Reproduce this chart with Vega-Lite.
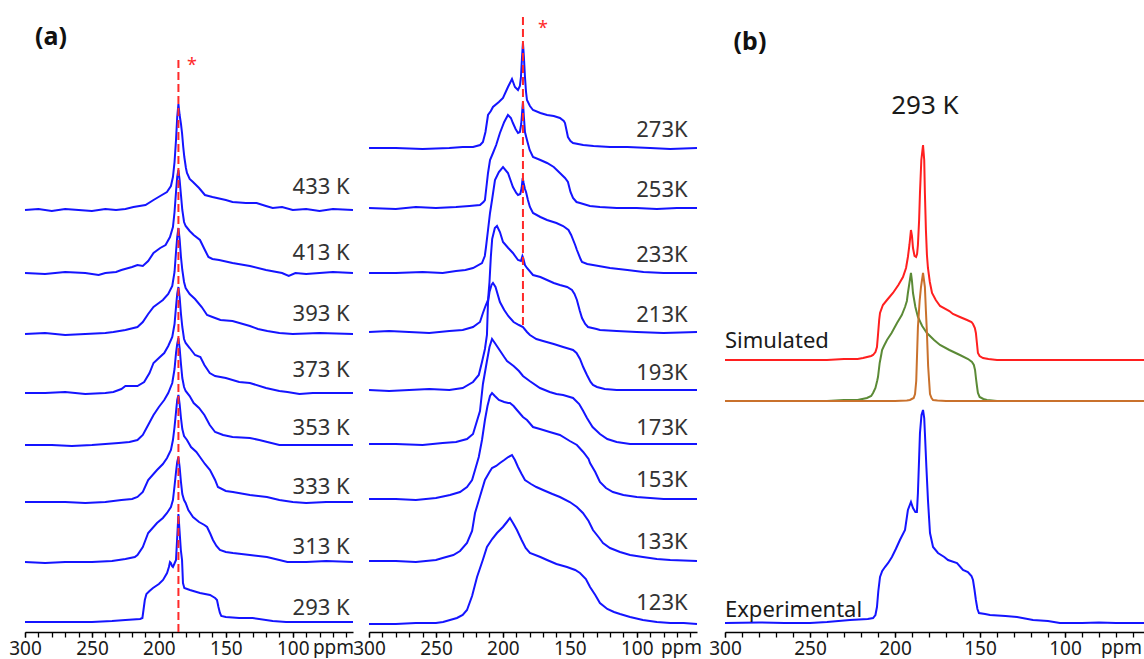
{
"$schema":"https://vega.github.io/schema/vega-lite/v6.json",
"padding":{"left":8,"top":0,"right":0,"bottom":0},
"background":"white",
"config":{"view":{"stroke":null},"font":"Noto Sans",
"axis":{"domainColor":"#000","tickColor":"#000","labelColor":"#1a1a1a","titleColor":"#1a1a1a","labelFontSize":19,"titleFontSize":19,"titleFontWeight":"normal","tickSize":5,"labelPadding":2,"grid":false,"labelFlush":false,"domainWidth":1.3,"tickWidth":1.3}},
"datasets":{
"p1":[
{"s":"433 K","x":300,"y":422},{"s":"433 K","x":290,"y":423},{"s":"433 K","x":280,"y":421},{"s":"433 K","x":270,"y":423},{"s":"433 K","x":260,"y":422},{"s":"433 K","x":250,"y":421},{"s":"433 K","x":240,"y":423},{"s":"433 K","x":232,"y":422},{"s":"433 K","x":225,"y":423},{"s":"433 K","x":219,"y":425},{"s":"433 K","x":210,"y":427},{"s":"433 K","x":204,"y":432},{"s":"433 K","x":199,"y":436},{"s":"433 K","x":194,"y":440},{"s":"433 K","x":191,"y":446},{"s":"433 K","x":189.5,"y":455},{"s":"433 K","x":188.3,"y":470},{"s":"433 K","x":187.2,"y":492},{"s":"433 K","x":186.3,"y":515},{"s":"433 K","x":185.4,"y":528},{"s":"433 K","x":184.5,"y":517},{"s":"433 K","x":183.5,"y":508},{"s":"433 K","x":182.7,"y":499},{"s":"433 K","x":181.8,"y":485},{"s":"433 K","x":181,"y":475},{"s":"433 K","x":179.8,"y":464},{"s":"433 K","x":179,"y":459},{"s":"433 K","x":177,"y":453},{"s":"433 K","x":174.5,"y":450},{"s":"433 K","x":170,"y":444},{"s":"433 K","x":165.6,"y":437},{"s":"433 K","x":160,"y":435},{"s":"433 K","x":150,"y":432},{"s":"433 K","x":145,"y":430},{"s":"433 K","x":135,"y":429},{"s":"433 K","x":127,"y":429},{"s":"433 K","x":120,"y":426},{"s":"433 K","x":115,"y":424},{"s":"433 K","x":108,"y":425},{"s":"433 K","x":100,"y":422},{"s":"433 K","x":90,"y":423},{"s":"433 K","x":80,"y":421},{"s":"433 K","x":70,"y":423},{"s":"433 K","x":55,"y":422},
{"s":"413 K","x":300,"y":359},{"s":"413 K","x":285,"y":358},{"s":"413 K","x":270,"y":360},{"s":"413 K","x":255,"y":359},{"s":"413 K","x":245,"y":357},{"s":"413 K","x":240,"y":359},{"s":"413 K","x":232,"y":360},{"s":"413 K","x":228,"y":362},{"s":"413 K","x":220,"y":365},{"s":"413 K","x":216,"y":367},{"s":"413 K","x":212,"y":366},{"s":"413 K","x":208,"y":371},{"s":"413 K","x":204,"y":379},{"s":"413 K","x":199,"y":384},{"s":"413 K","x":195,"y":387},{"s":"413 K","x":191.7,"y":395},{"s":"413 K","x":189.5,"y":405},{"s":"413 K","x":188.3,"y":420},{"s":"413 K","x":187.2,"y":440},{"s":"413 K","x":186.3,"y":455},{"s":"413 K","x":185.4,"y":462},{"s":"413 K","x":184.5,"y":452},{"s":"413 K","x":183.5,"y":437},{"s":"413 K","x":182.5,"y":422},{"s":"413 K","x":181.2,"y":410},{"s":"413 K","x":180,"y":406},{"s":"413 K","x":177,"y":401},{"s":"413 K","x":174,"y":397},{"s":"413 K","x":169.3,"y":392},{"s":"413 K","x":166,"y":383},{"s":"413 K","x":163,"y":375},{"s":"413 K","x":160,"y":373},{"s":"413 K","x":155,"y":372},{"s":"413 K","x":145,"y":369},{"s":"413 K","x":132,"y":366},{"s":"413 K","x":120,"y":362},{"s":"413 K","x":108,"y":359},{"s":"413 K","x":103,"y":356},{"s":"413 K","x":98,"y":359},{"s":"413 K","x":90,"y":358},{"s":"413 K","x":80,"y":359},{"s":"413 K","x":70,"y":360},{"s":"413 K","x":55,"y":359},
{"s":"393 K","x":300,"y":298},{"s":"393 K","x":285,"y":299},{"s":"393 K","x":270,"y":297},{"s":"393 K","x":255,"y":298},{"s":"393 K","x":240,"y":299},{"s":"393 K","x":234,"y":300},{"s":"393 K","x":225,"y":302},{"s":"393 K","x":216,"y":305},{"s":"393 K","x":212,"y":310},{"s":"393 K","x":208,"y":318},{"s":"393 K","x":204,"y":325},{"s":"393 K","x":200,"y":329},{"s":"393 K","x":197,"y":332},{"s":"393 K","x":193,"y":338},{"s":"393 K","x":190,"y":346},{"s":"393 K","x":188.3,"y":360},{"s":"393 K","x":187.2,"y":380},{"s":"393 K","x":186.3,"y":395},{"s":"393 K","x":185.4,"y":404},{"s":"393 K","x":184.5,"y":393},{"s":"393 K","x":183.5,"y":375},{"s":"393 K","x":182.5,"y":362},{"s":"393 K","x":181.2,"y":350},{"s":"393 K","x":180,"y":344},{"s":"393 K","x":177,"y":338},{"s":"393 K","x":173,"y":333},{"s":"393 K","x":168,"y":325},{"s":"393 K","x":164,"y":317},{"s":"393 K","x":160,"y":315},{"s":"393 K","x":154,"y":312},{"s":"393 K","x":145,"y":311},{"s":"393 K","x":132,"y":306},{"s":"393 K","x":126,"y":303},{"s":"393 K","x":119,"y":301},{"s":"393 K","x":110,"y":299},{"s":"393 K","x":100,"y":298},{"s":"393 K","x":80,"y":299},{"s":"393 K","x":55,"y":298},
{"s":"373 K","x":300,"y":239},{"s":"373 K","x":285,"y":239},{"s":"373 K","x":270,"y":240},{"s":"373 K","x":255,"y":238},{"s":"373 K","x":240,"y":239},{"s":"373 K","x":234,"y":240},{"s":"373 K","x":228,"y":243},{"s":"373 K","x":225,"y":246},{"s":"373 K","x":216,"y":246},{"s":"373 K","x":211,"y":250},{"s":"373 K","x":207,"y":259},{"s":"373 K","x":204,"y":269},{"s":"373 K","x":200,"y":274},{"s":"373 K","x":196,"y":279},{"s":"373 K","x":193,"y":286},{"s":"373 K","x":190,"y":295},{"s":"373 K","x":188.3,"y":308},{"s":"373 K","x":187.2,"y":325},{"s":"373 K","x":186.3,"y":338},{"s":"373 K","x":185.4,"y":345},{"s":"373 K","x":184.5,"y":335},{"s":"373 K","x":183.5,"y":318},{"s":"373 K","x":182.5,"y":305},{"s":"373 K","x":181.2,"y":293},{"s":"373 K","x":180,"y":289},{"s":"373 K","x":177,"y":284},{"s":"373 K","x":173,"y":277},{"s":"373 K","x":169,"y":275},{"s":"373 K","x":166,"y":267},{"s":"373 K","x":162,"y":259},{"s":"373 K","x":158,"y":256},{"s":"373 K","x":150,"y":254},{"s":"373 K","x":140,"y":250},{"s":"373 K","x":132,"y":249},{"s":"373 K","x":120,"y":244},{"s":"373 K","x":110,"y":241},{"s":"373 K","x":104,"y":240},{"s":"373 K","x":95,"y":238},{"s":"373 K","x":85,"y":239},{"s":"373 K","x":75,"y":239},{"s":"373 K","x":55,"y":239},
{"s":"353 K","x":300,"y":187},{"s":"353 K","x":280,"y":187},{"s":"353 K","x":265,"y":186},{"s":"353 K","x":250,"y":187},{"s":"353 K","x":240,"y":188},{"s":"353 K","x":230,"y":189},{"s":"353 K","x":222,"y":190},{"s":"353 K","x":216,"y":192},{"s":"353 K","x":212,"y":197},{"s":"353 K","x":208,"y":207},{"s":"353 K","x":204,"y":217},{"s":"353 K","x":200,"y":225},{"s":"353 K","x":196,"y":232},{"s":"353 K","x":193,"y":239},{"s":"353 K","x":190,"y":249},{"s":"353 K","x":188.3,"y":263},{"s":"353 K","x":187.2,"y":279},{"s":"353 K","x":186.3,"y":288},{"s":"353 K","x":185.4,"y":294},{"s":"353 K","x":184.5,"y":284},{"s":"353 K","x":183.5,"y":268},{"s":"353 K","x":182.5,"y":254},{"s":"353 K","x":181.2,"y":245},{"s":"353 K","x":180,"y":241},{"s":"353 K","x":177,"y":236},{"s":"353 K","x":174,"y":229},{"s":"353 K","x":170,"y":224},{"s":"353 K","x":166,"y":217},{"s":"353 K","x":162,"y":207},{"s":"353 K","x":158,"y":200},{"s":"353 K","x":152,"y":197},{"s":"353 K","x":145,"y":195},{"s":"353 K","x":132,"y":194},{"s":"353 K","x":125,"y":192},{"s":"353 K","x":119,"y":190},{"s":"353 K","x":110,"y":187},{"s":"353 K","x":55,"y":187},
{"s":"333 K","x":300,"y":130},{"s":"333 K","x":270,"y":130},{"s":"333 K","x":255,"y":129},{"s":"333 K","x":240,"y":130},{"s":"333 K","x":228,"y":132},{"s":"333 K","x":220,"y":133},{"s":"333 K","x":216,"y":135},{"s":"333 K","x":212,"y":140},{"s":"333 K","x":208,"y":152},{"s":"333 K","x":201.4,"y":162},{"s":"333 K","x":197,"y":168},{"s":"333 K","x":193.9,"y":174},{"s":"333 K","x":191,"y":182},{"s":"333 K","x":189.5,"y":192},{"s":"333 K","x":188.3,"y":205},{"s":"333 K","x":187.2,"y":220},{"s":"333 K","x":186.3,"y":232},{"s":"333 K","x":185.4,"y":237},{"s":"333 K","x":184.5,"y":228},{"s":"333 K","x":183.5,"y":214},{"s":"333 K","x":182.5,"y":203},{"s":"333 K","x":181.2,"y":196},{"s":"333 K","x":179,"y":192},{"s":"333 K","x":176,"y":185},{"s":"333 K","x":172,"y":180},{"s":"333 K","x":169.3,"y":175},{"s":"333 K","x":165.6,"y":168},{"s":"333 K","x":161.8,"y":162},{"s":"333 K","x":158,"y":152},{"s":"333 K","x":155.9,"y":145},{"s":"333 K","x":150,"y":141},{"s":"333 K","x":144.7,"y":140},{"s":"333 K","x":132,"y":137},{"s":"333 K","x":119.3,"y":135},{"s":"333 K","x":110,"y":132},{"s":"333 K","x":100,"y":130},{"s":"333 K","x":90,"y":129},{"s":"333 K","x":75,"y":130},{"s":"333 K","x":55,"y":130},
{"s":"313 K","x":300,"y":70},{"s":"313 K","x":285,"y":69},{"s":"313 K","x":270,"y":70},{"s":"313 K","x":250,"y":70},{"s":"313 K","x":235,"y":71},{"s":"313 K","x":225,"y":73},{"s":"313 K","x":218,"y":75},{"s":"313 K","x":216,"y":77},{"s":"313 K","x":212,"y":85},{"s":"313 K","x":208,"y":99},{"s":"313 K","x":201.4,"y":109},{"s":"313 K","x":197,"y":114},{"s":"313 K","x":193.9,"y":119},{"s":"313 K","x":191,"y":125},{"s":"313 K","x":189.5,"y":132},{"s":"313 K","x":188.3,"y":146},{"s":"313 K","x":187.2,"y":160},{"s":"313 K","x":186.3,"y":170},{"s":"313 K","x":185.4,"y":175},{"s":"313 K","x":184.5,"y":165},{"s":"313 K","x":183.5,"y":150},{"s":"313 K","x":182.5,"y":138},{"s":"313 K","x":181.2,"y":132},{"s":"313 K","x":180,"y":129},{"s":"313 K","x":178,"y":122},{"s":"313 K","x":174.5,"y":115},{"s":"313 K","x":170,"y":110},{"s":"313 K","x":166,"y":107},{"s":"313 K","x":164,"y":105},{"s":"313 K","x":161.5,"y":98},{"s":"313 K","x":159.6,"y":92},{"s":"313 K","x":157,"y":86},{"s":"313 K","x":154.4,"y":82},{"s":"313 K","x":150,"y":80},{"s":"313 K","x":144.7,"y":79},{"s":"313 K","x":132,"y":77},{"s":"313 K","x":119.3,"y":75},{"s":"313 K","x":110,"y":72},{"s":"313 K","x":104,"y":70},{"s":"313 K","x":90,"y":70},{"s":"313 K","x":75,"y":71},{"s":"313 K","x":55,"y":70},
{"s":"293 K","x":300,"y":10},{"s":"293 K","x":270,"y":10},{"s":"293 K","x":250,"y":10},{"s":"293 K","x":235,"y":11},{"s":"293 K","x":225,"y":12},{"s":"293 K","x":214,"y":13},{"s":"293 K","x":212.3,"y":14},{"s":"293 K","x":211.5,"y":22},{"s":"293 K","x":210.5,"y":32},{"s":"293 K","x":209.3,"y":38},{"s":"293 K","x":207,"y":41},{"s":"293 K","x":204.4,"y":44},{"s":"293 K","x":200,"y":48},{"s":"293 K","x":196.9,"y":52},{"s":"293 K","x":193.9,"y":59},{"s":"293 K","x":192.5,"y":65},{"s":"293 K","x":191.7,"y":70},{"s":"293 K","x":191,"y":69},{"s":"293 K","x":190.2,"y":66},{"s":"293 K","x":189.5,"y":65},{"s":"293 K","x":188.5,"y":68},{"s":"293 K","x":187.2,"y":72},{"s":"293 K","x":186.3,"y":95},{"s":"293 K","x":185.4,"y":118},{"s":"293 K","x":184.5,"y":100},{"s":"293 K","x":183.6,"y":82},{"s":"293 K","x":182.7,"y":72},{"s":"293 K","x":182,"y":49},{"s":"293 K","x":181,"y":44},{"s":"293 K","x":176.8,"y":42},{"s":"293 K","x":169.3,"y":39},{"s":"293 K","x":161.8,"y":37},{"s":"293 K","x":158,"y":34},{"s":"293 K","x":156.6,"y":32},{"s":"293 K","x":155.5,"y":25},{"s":"293 K","x":154.4,"y":19},{"s":"293 K","x":153.4,"y":16},{"s":"293 K","x":150,"y":15},{"s":"293 K","x":140,"y":14},{"s":"293 K","x":130,"y":14},{"s":"293 K","x":115,"y":11},{"s":"293 K","x":105,"y":10},{"s":"293 K","x":55,"y":10}
],
"p2":[
{"s":"273K","x":300,"y":484},{"s":"273K","x":280,"y":484},{"s":"273K","x":260,"y":483},{"s":"273K","x":240,"y":484},{"s":"273K","x":230,"y":485},{"s":"273K","x":222.3,"y":485},{"s":"273K","x":217,"y":487},{"s":"273K","x":214.9,"y":490},{"s":"273K","x":213,"y":500},{"s":"273K","x":211.1,"y":517},{"s":"273K","x":209,"y":521},{"s":"273K","x":207.4,"y":525},{"s":"273K","x":203,"y":530},{"s":"273K","x":199.9,"y":534},{"s":"273K","x":196.2,"y":545},{"s":"273K","x":193.2,"y":553},{"s":"273K","x":191,"y":545},{"s":"273K","x":188.7,"y":542},{"s":"273K","x":187.3,"y":546},{"s":"273K","x":186.5,"y":555},{"s":"273K","x":185.7,"y":575},{"s":"273K","x":185,"y":589},{"s":"273K","x":184.3,"y":575},{"s":"273K","x":183.5,"y":555},{"s":"273K","x":182.7,"y":540},{"s":"273K","x":182,"y":532},{"s":"273K","x":179.8,"y":526},{"s":"273K","x":177.5,"y":522},{"s":"273K","x":172,"y":519},{"s":"273K","x":167,"y":517},{"s":"273K","x":162,"y":516},{"s":"273K","x":157.4,"y":514},{"s":"273K","x":154.5,"y":511},{"s":"273K","x":153.6,"y":509},{"s":"273K","x":152.5,"y":502},{"s":"273K","x":151.4,"y":495},{"s":"273K","x":149.5,"y":491},{"s":"273K","x":147.6,"y":489},{"s":"273K","x":140,"y":487},{"s":"273K","x":132.3,"y":486},{"s":"273K","x":120,"y":485},{"s":"273K","x":107,"y":485},{"s":"273K","x":90,"y":484},{"s":"273K","x":75,"y":483},{"s":"273K","x":55,"y":484},
{"s":"253K","x":300,"y":424},{"s":"253K","x":280,"y":423},{"s":"253K","x":265,"y":425},{"s":"253K","x":250,"y":424},{"s":"253K","x":235,"y":425},{"s":"253K","x":225,"y":426},{"s":"253K","x":217.1,"y":427},{"s":"253K","x":214.5,"y":430},{"s":"253K","x":213.4,"y":432},{"s":"253K","x":212.3,"y":445},{"s":"253K","x":211.1,"y":459},{"s":"253K","x":209.6,"y":472},{"s":"253K","x":207.4,"y":479},{"s":"253K","x":205,"y":487},{"s":"253K","x":202.2,"y":499},{"s":"253K","x":199,"y":510},{"s":"253K","x":196.2,"y":517},{"s":"253K","x":194,"y":514},{"s":"253K","x":192.5,"y":509},{"s":"253K","x":190.5,"y":503},{"s":"253K","x":188.7,"y":499},{"s":"253K","x":187.3,"y":500},{"s":"253K","x":186.3,"y":508},{"s":"253K","x":185.6,"y":520},{"s":"253K","x":185,"y":530},{"s":"253K","x":184.3,"y":515},{"s":"253K","x":183.5,"y":500},{"s":"253K","x":182,"y":492},{"s":"253K","x":180,"y":482},{"s":"253K","x":177.5,"y":475},{"s":"253K","x":172,"y":472},{"s":"253K","x":167,"y":469},{"s":"253K","x":162,"y":465},{"s":"253K","x":157.4,"y":459},{"s":"253K","x":153.6,"y":454},{"s":"253K","x":151.4,"y":450},{"s":"253K","x":149.5,"y":440},{"s":"253K","x":147.6,"y":434},{"s":"253K","x":145,"y":430},{"s":"253K","x":142.4,"y":429},{"s":"253K","x":135,"y":426},{"s":"253K","x":127.5,"y":425},{"s":"253K","x":115,"y":424},{"s":"253K","x":100,"y":424},{"s":"253K","x":85,"y":423},{"s":"253K","x":70,"y":424},{"s":"253K","x":55,"y":424},
{"s":"233K","x":300,"y":359},{"s":"233K","x":280,"y":359},{"s":"233K","x":260,"y":360},{"s":"233K","x":245,"y":359},{"s":"233K","x":235,"y":361},{"s":"233K","x":228,"y":362},{"s":"233K","x":222.3,"y":364},{"s":"233K","x":215.6,"y":369},{"s":"233K","x":213.5,"y":376},{"s":"233K","x":212.6,"y":385},{"s":"233K","x":211.1,"y":402},{"s":"233K","x":209.6,"y":419},{"s":"233K","x":208.1,"y":432},{"s":"233K","x":205.9,"y":452},{"s":"233K","x":203,"y":460},{"s":"233K","x":199.9,"y":465},{"s":"233K","x":196.2,"y":459},{"s":"233K","x":192.5,"y":445},{"s":"233K","x":190,"y":439},{"s":"233K","x":188.7,"y":437},{"s":"233K","x":187,"y":438},{"s":"233K","x":186,"y":444},{"s":"233K","x":185.2,"y":454},{"s":"233K","x":184.5,"y":449},{"s":"233K","x":183.5,"y":443},{"s":"233K","x":182.7,"y":440},{"s":"233K","x":181.3,"y":432},{"s":"233K","x":179.8,"y":425},{"s":"233K","x":177.5,"y":419},{"s":"233K","x":172,"y":415},{"s":"233K","x":167,"y":412},{"s":"233K","x":160,"y":409},{"s":"233K","x":155,"y":406},{"s":"233K","x":151,"y":402},{"s":"233K","x":149,"y":397},{"s":"233K","x":146,"y":387},{"s":"233K","x":144.7,"y":382},{"s":"233K","x":142,"y":373},{"s":"233K","x":140.9,"y":370},{"s":"233K","x":137,"y":368},{"s":"233K","x":132.7,"y":367},{"s":"233K","x":120,"y":364},{"s":"233K","x":107,"y":362},{"s":"233K","x":95,"y":360},{"s":"233K","x":80,"y":359},{"s":"233K","x":55,"y":359},
{"s":"213K","x":300,"y":300},{"s":"213K","x":285,"y":301},{"s":"213K","x":270,"y":300},{"s":"213K","x":255,"y":299},{"s":"213K","x":240,"y":301},{"s":"213K","x":230,"y":302},{"s":"213K","x":222.3,"y":305},{"s":"213K","x":217.1,"y":310},{"s":"213K","x":214.9,"y":319},{"s":"213K","x":213,"y":326},{"s":"213K","x":211.1,"y":332},{"s":"213K","x":210,"y":350},{"s":"213K","x":209,"y":375},{"s":"213K","x":208,"y":393},{"s":"213K","x":206,"y":404},{"s":"213K","x":204.4,"y":406},{"s":"213K","x":202.2,"y":400},{"s":"213K","x":199.9,"y":390},{"s":"213K","x":196,"y":384},{"s":"213K","x":192.5,"y":379},{"s":"213K","x":188.7,"y":372},{"s":"213K","x":186.5,"y":371},{"s":"213K","x":185.4,"y":376},{"s":"213K","x":184.8,"y":374},{"s":"213K","x":183.5,"y":367},{"s":"213K","x":182,"y":364},{"s":"213K","x":177.5,"y":357},{"s":"213K","x":172,"y":355},{"s":"213K","x":167,"y":352},{"s":"213K","x":162,"y":349},{"s":"213K","x":157.4,"y":347},{"s":"213K","x":152,"y":345},{"s":"213K","x":148.4,"y":342},{"s":"213K","x":146.5,"y":338},{"s":"213K","x":144.7,"y":332},{"s":"213K","x":142.5,"y":321},{"s":"213K","x":140.9,"y":314},{"s":"213K","x":138.5,"y":308},{"s":"213K","x":136.4,"y":305},{"s":"213K","x":130,"y":303},{"s":"213K","x":127.5,"y":302},{"s":"213K","x":115,"y":301},{"s":"213K","x":100,"y":300},{"s":"213K","x":80,"y":299},{"s":"213K","x":55,"y":300},
{"s":"193K","x":300,"y":242},{"s":"193K","x":285,"y":241},{"s":"193K","x":270,"y":242},{"s":"193K","x":255,"y":243},{"s":"193K","x":240,"y":242},{"s":"193K","x":230,"y":244},{"s":"193K","x":222.3,"y":250},{"s":"193K","x":218,"y":257},{"s":"193K","x":215.6,"y":270},{"s":"193K","x":213.4,"y":283},{"s":"193K","x":211.9,"y":297},{"s":"193K","x":211.1,"y":330},{"s":"193K","x":210,"y":340},{"s":"193K","x":208.5,"y":347},{"s":"193K","x":207.4,"y":349},{"s":"193K","x":205.5,"y":345},{"s":"193K","x":202.2,"y":330},{"s":"193K","x":199,"y":322},{"s":"193K","x":196,"y":316},{"s":"193K","x":192,"y":310},{"s":"193K","x":188,"y":307},{"s":"193K","x":185,"y":305},{"s":"193K","x":182,"y":300},{"s":"193K","x":179.8,"y":297},{"s":"193K","x":175,"y":293},{"s":"193K","x":170,"y":291},{"s":"193K","x":162,"y":288},{"s":"193K","x":155,"y":285},{"s":"193K","x":150,"y":283},{"s":"193K","x":147.6,"y":282},{"s":"193K","x":145,"y":279},{"s":"193K","x":142.4,"y":273},{"s":"193K","x":140,"y":265},{"s":"193K","x":137.2,"y":257},{"s":"193K","x":134.5,"y":250},{"s":"193K","x":132.7,"y":247},{"s":"193K","x":129.7,"y":245},{"s":"193K","x":124,"y":243},{"s":"193K","x":115,"y":242},{"s":"193K","x":95,"y":242},{"s":"193K","x":55,"y":242},
{"s":"173K","x":300,"y":188},{"s":"173K","x":280,"y":188},{"s":"173K","x":260,"y":187},{"s":"173K","x":245,"y":189},{"s":"173K","x":235,"y":190},{"s":"173K","x":226.8,"y":193},{"s":"173K","x":222.3,"y":198},{"s":"173K","x":217.1,"y":221},{"s":"173K","x":214.9,"y":248},{"s":"173K","x":211.9,"y":271},{"s":"173K","x":210,"y":285},{"s":"173K","x":208.1,"y":293},{"s":"173K","x":206,"y":289},{"s":"173K","x":202,"y":281},{"s":"173K","x":199,"y":275},{"s":"173K","x":196.9,"y":271},{"s":"173K","x":192,"y":266},{"s":"173K","x":188,"y":261},{"s":"173K","x":185,"y":256},{"s":"173K","x":180,"y":251},{"s":"173K","x":172.3,"y":244},{"s":"173K","x":165,"y":240},{"s":"173K","x":160,"y":238},{"s":"173K","x":155,"y":237},{"s":"173K","x":147.6,"y":234},{"s":"173K","x":143,"y":228},{"s":"173K","x":140,"y":221},{"s":"173K","x":137.2,"y":214},{"s":"173K","x":133,"y":205},{"s":"173K","x":127.5,"y":198},{"s":"173K","x":122,"y":193},{"s":"173K","x":115,"y":190},{"s":"173K","x":105,"y":188},{"s":"173K","x":80,"y":188},{"s":"173K","x":55,"y":188},
{"s":"153K","x":300,"y":133},{"s":"153K","x":280,"y":133},{"s":"153K","x":265,"y":132},{"s":"153K","x":250,"y":134},{"s":"153K","x":239.5,"y":137},{"s":"153K","x":232,"y":140},{"s":"153K","x":226.8,"y":145},{"s":"153K","x":223,"y":152},{"s":"153K","x":220.8,"y":162},{"s":"153K","x":218,"y":175},{"s":"153K","x":215.6,"y":192},{"s":"153K","x":213.4,"y":212},{"s":"153K","x":211.5,"y":226},{"s":"153K","x":209.6,"y":236},{"s":"153K","x":208.1,"y":239},{"s":"153K","x":206,"y":236},{"s":"153K","x":203,"y":232},{"s":"153K","x":199,"y":230},{"s":"153K","x":196,"y":229},{"s":"153K","x":194.7,"y":229},{"s":"153K","x":192,"y":226},{"s":"153K","x":189.5,"y":222},{"s":"153K","x":185,"y":215},{"s":"153K","x":182,"y":212},{"s":"153K","x":177.5,"y":205},{"s":"153K","x":172.3,"y":203},{"s":"153K","x":165,"y":200},{"s":"153K","x":157.4,"y":197},{"s":"153K","x":150,"y":191},{"s":"153K","x":144.7,"y":187},{"s":"153K","x":140,"y":180},{"s":"153K","x":136,"y":173},{"s":"153K","x":134.9,"y":169},{"s":"153K","x":131,"y":160},{"s":"153K","x":127.5,"y":150},{"s":"153K","x":123,"y":144},{"s":"153K","x":117.8,"y":140},{"s":"153K","x":110,"y":137},{"s":"153K","x":100,"y":135},{"s":"153K","x":90,"y":134},{"s":"153K","x":80,"y":133},{"s":"153K","x":55,"y":133},
{"s":"133K","x":300,"y":71},{"s":"133K","x":280,"y":71},{"s":"133K","x":265,"y":70},{"s":"133K","x":250,"y":72},{"s":"133K","x":245,"y":74},{"s":"133K","x":237,"y":77},{"s":"133K","x":232,"y":81},{"s":"133K","x":226.8,"y":89},{"s":"133K","x":223,"y":101},{"s":"133K","x":220.8,"y":119},{"s":"133K","x":217,"y":136},{"s":"133K","x":213.4,"y":152},{"s":"133K","x":210,"y":160},{"s":"133K","x":208.1,"y":164},{"s":"133K","x":205,"y":166},{"s":"133K","x":202.2,"y":169},{"s":"133K","x":199,"y":172},{"s":"133K","x":196,"y":175},{"s":"133K","x":193.2,"y":177},{"s":"133K","x":191,"y":172},{"s":"133K","x":188.7,"y":165},{"s":"133K","x":186,"y":158},{"s":"133K","x":183.5,"y":152},{"s":"133K","x":179,"y":148},{"s":"133K","x":175,"y":145},{"s":"133K","x":170,"y":142},{"s":"133K","x":163,"y":138},{"s":"133K","x":157.4,"y":135},{"s":"133K","x":150,"y":130},{"s":"133K","x":144.7,"y":125},{"s":"133K","x":140.2,"y":119},{"s":"133K","x":136,"y":111},{"s":"133K","x":132.7,"y":102},{"s":"133K","x":128,"y":94},{"s":"133K","x":125.2,"y":89},{"s":"133K","x":120,"y":84},{"s":"133K","x":112.5,"y":80},{"s":"133K","x":105,"y":77},{"s":"133K","x":95.4,"y":75},{"s":"133K","x":85,"y":73},{"s":"133K","x":75,"y":72},{"s":"133K","x":55,"y":71},
{"s":"123K","x":300,"y":8},{"s":"123K","x":280,"y":8},{"s":"123K","x":265,"y":9},{"s":"123K","x":250,"y":9},{"s":"123K","x":244.7,"y":10},{"s":"123K","x":239.5,"y":12},{"s":"123K","x":234.3,"y":14},{"s":"123K","x":230,"y":17},{"s":"123K","x":226.8,"y":22},{"s":"123K","x":223,"y":36},{"s":"123K","x":219.3,"y":55},{"s":"123K","x":215,"y":72},{"s":"123K","x":211.9,"y":85},{"s":"123K","x":208,"y":93},{"s":"123K","x":204.4,"y":99},{"s":"123K","x":200,"y":105},{"s":"123K","x":197,"y":110},{"s":"123K","x":194.7,"y":114},{"s":"123K","x":192,"y":108},{"s":"123K","x":189.5,"y":102},{"s":"123K","x":186,"y":92},{"s":"123K","x":183,"y":84},{"s":"123K","x":179.8,"y":79},{"s":"123K","x":172,"y":75},{"s":"123K","x":167,"y":72},{"s":"123K","x":160,"y":68},{"s":"123K","x":152.1,"y":65},{"s":"123K","x":146,"y":62},{"s":"123K","x":142.4,"y":59},{"s":"123K","x":138,"y":53},{"s":"123K","x":134.9,"y":45},{"s":"123K","x":131,"y":37},{"s":"123K","x":127.5,"y":29},{"s":"123K","x":122,"y":23},{"s":"123K","x":117,"y":20},{"s":"123K","x":112.5,"y":18},{"s":"123K","x":105,"y":15},{"s":"123K","x":95.4,"y":12},{"s":"123K","x":85,"y":10},{"s":"123K","x":75,"y":9},{"s":"123K","x":65,"y":9},{"s":"123K","x":55,"y":8}
],
"p3":[
{"s":"sim","x":300,"y":272},{"s":"sim","x":260,"y":272},{"s":"sim","x":240,"y":272},{"s":"sim","x":230,"y":273},{"s":"sim","x":222,"y":273},{"s":"sim","x":218.8,"y":274},{"s":"sim","x":214,"y":276},{"s":"sim","x":212.9,"y":277},{"s":"sim","x":211.5,"y":280},{"s":"sim","x":210.6,"y":285},{"s":"sim","x":210,"y":297},{"s":"sim","x":209.3,"y":312},{"s":"sim","x":208.8,"y":319},{"s":"sim","x":207.1,"y":327},{"s":"sim","x":204.7,"y":332},{"s":"sim","x":201.2,"y":339},{"s":"sim","x":198,"y":347},{"s":"sim","x":195.3,"y":355},{"s":"sim","x":193.5,"y":364},{"s":"sim","x":192.4,"y":375},{"s":"sim","x":191.5,"y":387},{"s":"sim","x":190.6,"y":402},{"s":"sim","x":190,"y":396},{"s":"sim","x":189.4,"y":384},{"s":"sim","x":188.5,"y":376},{"s":"sim","x":187.6,"y":375},{"s":"sim","x":187,"y":378},{"s":"sim","x":186.5,"y":387},{"s":"sim","x":185.8,"y":412},{"s":"sim","x":185.3,"y":439},{"s":"sim","x":184.5,"y":472},{"s":"sim","x":183.5,"y":487},{"s":"sim","x":182.8,"y":472},{"s":"sim","x":182.4,"y":439},{"s":"sim","x":181.8,"y":402},{"s":"sim","x":181.2,"y":377},{"s":"sim","x":180.6,"y":364},{"s":"sim","x":179.5,"y":350},{"s":"sim","x":178.2,"y":339},{"s":"sim","x":176,"y":332},{"s":"sim","x":173.5,"y":326},{"s":"sim","x":168,"y":321},{"s":"sim","x":165.9,"y":318},{"s":"sim","x":161.8,"y":315},{"s":"sim","x":157.6,"y":312},{"s":"sim","x":155,"y":310},{"s":"sim","x":154.1,"y":308},{"s":"sim","x":153,"y":304},{"s":"sim","x":152.4,"y":299},{"s":"sim","x":151.8,"y":289},{"s":"sim","x":151.2,"y":279},{"s":"sim","x":150.2,"y":276},{"s":"sim","x":148.2,"y":274},{"s":"sim","x":145,"y":273},{"s":"sim","x":140,"y":272},{"s":"sim","x":53.5,"y":272},
{"s":"g","x":300,"y":231},{"s":"g","x":260,"y":231},{"s":"g","x":240,"y":231},{"s":"g","x":230,"y":232},{"s":"g","x":222,"y":232},{"s":"g","x":216.5,"y":234},{"s":"g","x":214,"y":236},{"s":"g","x":212.9,"y":239},{"s":"g","x":211.5,"y":244},{"s":"g","x":210.5,"y":251},{"s":"g","x":210,"y":255},{"s":"g","x":209,"y":269},{"s":"g","x":208,"y":278},{"s":"g","x":207.6,"y":282},{"s":"g","x":206.5,"y":286},{"s":"g","x":204.7,"y":292},{"s":"g","x":202,"y":299},{"s":"g","x":198.8,"y":309},{"s":"g","x":196,"y":317},{"s":"g","x":194.1,"y":325},{"s":"g","x":193,"y":331},{"s":"g","x":192.4,"y":339},{"s":"g","x":191.5,"y":349},{"s":"g","x":190.6,"y":359},{"s":"g","x":190,"y":351},{"s":"g","x":189.4,"y":339},{"s":"g","x":188,"y":325},{"s":"g","x":186.5,"y":315},{"s":"g","x":184,"y":306},{"s":"g","x":181.2,"y":299},{"s":"g","x":177,"y":292},{"s":"g","x":173.5,"y":287},{"s":"g","x":168,"y":282},{"s":"g","x":161.8,"y":277},{"s":"g","x":157,"y":273},{"s":"g","x":154.7,"y":270},{"s":"g","x":153.6,"y":267},{"s":"g","x":152.9,"y":262},{"s":"g","x":152.3,"y":253},{"s":"g","x":151.7,"y":245},{"s":"g","x":151.2,"y":239},{"s":"g","x":150.2,"y":235},{"s":"g","x":148,"y":233},{"s":"g","x":145.9,"y":232},{"s":"g","x":140,"y":231},{"s":"g","x":53.5,"y":231},
{"s":"o","x":300,"y":231},{"s":"o","x":200,"y":231},{"s":"o","x":193,"y":231.5},{"s":"o","x":191.2,"y":232},{"s":"o","x":189,"y":234},{"s":"o","x":188.2,"y":238},{"s":"o","x":187.5,"y":251},{"s":"o","x":186.5,"y":305},{"s":"o","x":185.5,"y":331},{"s":"o","x":184.7,"y":345},{"s":"o","x":183.5,"y":359},{"s":"o","x":182.4,"y":345},{"s":"o","x":181.8,"y":321},{"s":"o","x":181.2,"y":299},{"s":"o","x":180.5,"y":266},{"s":"o","x":179.4,"y":238},{"s":"o","x":178.5,"y":234},{"s":"o","x":177.6,"y":232},{"s":"o","x":175,"y":231.5},{"s":"o","x":170,"y":231},{"s":"o","x":53.5,"y":231},
{"s":"exp","x":300,"y":9},{"s":"exp","x":280,"y":9.5},{"s":"exp","x":265,"y":9},{"s":"exp","x":250,"y":9},{"s":"exp","x":240,"y":10},{"s":"exp","x":226.5,"y":12},{"s":"exp","x":216,"y":13},{"s":"exp","x":212.9,"y":14},{"s":"exp","x":211.5,"y":17},{"s":"exp","x":210.6,"y":25},{"s":"exp","x":209.8,"y":41},{"s":"exp","x":208.8,"y":55},{"s":"exp","x":207.5,"y":61},{"s":"exp","x":205.9,"y":65},{"s":"exp","x":204,"y":69},{"s":"exp","x":201.8,"y":75},{"s":"exp","x":199.5,"y":83},{"s":"exp","x":197.1,"y":92},{"s":"exp","x":194.1,"y":102},{"s":"exp","x":192.4,"y":122},{"s":"exp","x":190.6,"y":130},{"s":"exp","x":189.4,"y":124},{"s":"exp","x":188,"y":120},{"s":"exp","x":187.1,"y":120},{"s":"exp","x":186.5,"y":139},{"s":"exp","x":185.8,"y":174},{"s":"exp","x":185.3,"y":199},{"s":"exp","x":184.4,"y":217},{"s":"exp","x":183.5,"y":222},{"s":"exp","x":182.8,"y":214},{"s":"exp","x":182.4,"y":199},{"s":"exp","x":181.5,"y":164},{"s":"exp","x":180.6,"y":132},{"s":"exp","x":179.4,"y":99},{"s":"exp","x":177.6,"y":85},{"s":"exp","x":174.7,"y":79},{"s":"exp","x":171,"y":75},{"s":"exp","x":168.8,"y":72},{"s":"exp","x":163.5,"y":69},{"s":"exp","x":160,"y":62},{"s":"exp","x":157.1,"y":60},{"s":"exp","x":155,"y":56},{"s":"exp","x":154.1,"y":52},{"s":"exp","x":153.2,"y":42},{"s":"exp","x":152.4,"y":32},{"s":"exp","x":151.5,"y":23},{"s":"exp","x":150.6,"y":19},{"s":"exp","x":147,"y":18},{"s":"exp","x":144.1,"y":17},{"s":"exp","x":135,"y":16},{"s":"exp","x":128.2,"y":15},{"s":"exp","x":118.8,"y":12},{"s":"exp","x":110,"y":11},{"s":"exp","x":103,"y":9},{"s":"exp","x":90,"y":9},{"s":"exp","x":80,"y":9.5},{"s":"exp","x":70,"y":9},{"s":"exp","x":53.5,"y":9}
],
"rules":[{"p":1,"x":185.4,"y":0,"y2":575},{"p":2,"x":185,"y":307,"y2":619}],
"lab":[
{"p":1,"k":"temp","x":57.5,"y":445,"t":"433 K"},{"p":1,"k":"temp","x":57.5,"y":379,"t":"413 K"},{"p":1,"k":"temp","x":57.5,"y":318,"t":"393 K"},{"p":1,"k":"temp","x":57.5,"y":262,"t":"373 K"},{"p":1,"k":"temp","x":57.5,"y":204,"t":"353 K"},{"p":1,"k":"temp","x":57.5,"y":145,"t":"333 K"},{"p":1,"k":"temp","x":57.5,"y":85,"t":"313 K"},{"p":1,"k":"temp","x":57.5,"y":24,"t":"293 K"},
{"p":2,"k":"temp","x":62,"y":502,"t":"273K"},{"p":2,"k":"temp","x":62,"y":442,"t":"253K"},{"p":2,"k":"temp","x":62,"y":377,"t":"233K"},{"p":2,"k":"temp","x":62,"y":317,"t":"213K"},{"p":2,"k":"temp","x":62,"y":259,"t":"193K"},{"p":2,"k":"temp","x":62,"y":204,"t":"173K"},{"p":2,"k":"temp","x":62,"y":152,"t":"153K"},{"p":2,"k":"temp","x":62,"y":90,"t":"133K"},{"p":2,"k":"temp","x":62,"y":29,"t":"123K"},
{"p":1,"k":"tag","x":280.6,"y":595,"t":"(a)"},{"p":3,"k":"tag","x":285.3,"y":590,"t":"(b)"},
{"p":1,"k":"star","x":175.3,"y":566,"t":"*"},{"p":2,"k":"star","x":170.1,"y":603,"t":"*"},
{"p":3,"k":"title","x":182.4,"y":526,"t":"293 K"},
{"p":3,"k":"name","x":300,"y":291,"t":"Simulated"},{"p":3,"k":"name","x":300,"y":22,"t":"Experimental"}
]
},
"hconcat":[
{"width":328,"height":632,
"resolve":{"axis":{"x":"independent"}},
"layer":[
{"data":{"name":"p1"},"mark":{"type":"line","color":"#1414ff","strokeWidth":2},
"encoding":{"x":{"field":"x","type":"quantitative","scale":{"domain":[300,55],"nice":false,"zero":false},
"axis":{"orient":"bottom","values":[300,250,200,150,100],"labelOverlap":false,"labelFlush":false,"title":"ppm","titleX":308,"titleY":6,"titleAlign":"center","titleBaseline":"top"}},
"y":{"field":"y","type":"quantitative","scale":{"domain":[0,632],"nice":false,"zero":false},"axis":null},
"detail":{"field":"s"}}},
{"data":{"name":"rules"},"transform":[{"filter":"datum.p==1"}],"mark":{"type":"rule","color":"#ff2a2a","strokeWidth":2,"strokeDash":[8,4]},
"encoding":{"x":{"field":"x","type":"quantitative","axis":{"orient":"bottom","values":[300,290,280,270,260,250,240,230,220,210,200,190,180,170,160,150,140,130,120,110,100,90,80,70,60],"labels":false,"domain":false,"title":null}},"y":{"field":"y","type":"quantitative","axis":null},"y2":{"field":"y2"}}},
{"data":{"name":"lab"},"transform":[{"filter":"datum.p==1 && datum.k=='temp'"}],"mark":{"type":"text","align":"right","baseline":"middle","fontSize":22,"color":"#333333"},
"encoding":{"x":{"field":"x","type":"quantitative","axis":null},"y":{"field":"y","type":"quantitative","axis":null},"text":{"field":"t"}}},
{"data":{"name":"lab"},"transform":[{"filter":"datum.p==1 && datum.k=='tag'"}],"mark":{"type":"text","align":"center","baseline":"middle","fontSize":25,"fontWeight":"bold","color":"#111111"},
"encoding":{"x":{"field":"x","type":"quantitative","axis":null},"y":{"field":"y","type":"quantitative","axis":null},"text":{"field":"t"}}},
{"data":{"name":"lab"},"transform":[{"filter":"datum.p==1 && datum.k=='star'"}],"mark":{"type":"text","align":"center","baseline":"middle","fontSize":18,"color":"#ff2a2a"},
"encoding":{"x":{"field":"x","type":"quantitative","axis":null},"y":{"field":"y","type":"quantitative","axis":null},"text":{"field":"t"}}}
]},
{"width":16,"height":632,"data":{"values":[{"t":""}]},"mark":{"type":"text","text":""}},
{"width":328,"height":632,
"resolve":{"axis":{"x":"independent"}},
"layer":[
{"data":{"name":"p2"},"mark":{"type":"line","color":"#1414ff","strokeWidth":2},
"encoding":{"x":{"field":"x","type":"quantitative","scale":{"domain":[300,55],"nice":false,"zero":false},
"axis":{"orient":"bottom","values":[300,250,200,150,100],"labelOverlap":false,"labelFlush":false,"title":"ppm","titleX":312,"titleY":6,"titleAlign":"center","titleBaseline":"top"}},
"y":{"field":"y","type":"quantitative","scale":{"domain":[0,632],"nice":false,"zero":false},"axis":null},
"detail":{"field":"s"}}},
{"data":{"name":"rules"},"transform":[{"filter":"datum.p==2"}],"mark":{"type":"rule","color":"#ff2a2a","strokeWidth":2,"strokeDash":[8,4]},
"encoding":{"x":{"field":"x","type":"quantitative","axis":{"orient":"bottom","values":[300,290,280,270,260,250,240,230,220,210,200,190,180,170,160,150,140,130,120,110,100,90,80,70,60],"labels":false,"domain":false,"title":null}},"y":{"field":"y","type":"quantitative","axis":null},"y2":{"field":"y2"}}},
{"data":{"name":"lab"},"transform":[{"filter":"datum.p==2 && datum.k=='temp'"}],"mark":{"type":"text","align":"right","baseline":"middle","fontSize":22,"color":"#333333"},
"encoding":{"x":{"field":"x","type":"quantitative","axis":null},"y":{"field":"y","type":"quantitative","axis":null},"text":{"field":"t"}}},
{"data":{"name":"lab"},"transform":[{"filter":"datum.p==2 && datum.k=='star'"}],"mark":{"type":"text","align":"center","baseline":"middle","fontSize":18,"color":"#ff2a2a"},
"encoding":{"x":{"field":"x","type":"quantitative","axis":null},"y":{"field":"y","type":"quantitative","axis":null},"text":{"field":"t"}}}
]},
{"width":28,"height":632,"data":{"values":[{"t":""}]},"mark":{"type":"text","text":""}},
{"width":419,"height":632,
"resolve":{"axis":{"x":"independent"}},
"layer":[
{"data":{"name":"p3"},"mark":{"type":"line","strokeWidth":2},
"encoding":{"x":{"field":"x","type":"quantitative","scale":{"domain":[300,53.5],"nice":false,"zero":false},
"axis":{"orient":"bottom","values":[300,250,200,150,100],"labelOverlap":false,"labelFlush":false,"title":"ppm","titleX":396,"titleY":6,"titleAlign":"center","titleBaseline":"top"}},
"y":{"field":"y","type":"quantitative","scale":{"domain":[0,632],"nice":false,"zero":false},"axis":null},
"color":{"field":"s","type":"nominal","scale":{"domain":["sim","g","o","exp"],"range":["#ff1f1f","#5b8a36","#c9712c","#1414ff"]},"legend":null}}},
{"data":{"name":"lab"},"transform":[{"filter":"datum.p==3 && datum.k=='tag'"}],"mark":{"type":"text","align":"center","baseline":"middle","fontSize":25,"fontWeight":"bold","color":"#111111"},
"encoding":{"x":{"field":"x","type":"quantitative","axis":{"orient":"bottom","values":[300,290,280,270,260,250,240,230,220,210,200,190,180,170,160,150,140,130,120,110,100,90,80,70,60],"labels":false,"domain":false,"title":null}},"y":{"field":"y","type":"quantitative","axis":null},"text":{"field":"t"}}},
{"data":{"name":"lab"},"transform":[{"filter":"datum.p==3 && datum.k=='title'"}],"mark":{"type":"text","align":"center","baseline":"middle","fontSize":26,"color":"#1a1a1a"},
"encoding":{"x":{"field":"x","type":"quantitative","axis":null},"y":{"field":"y","type":"quantitative","axis":null},"text":{"field":"t"}}},
{"data":{"name":"lab"},"transform":[{"filter":"datum.p==3 && datum.k=='name'"}],"mark":{"type":"text","align":"left","baseline":"middle","fontSize":22,"color":"#1a1a1a"},
"encoding":{"x":{"field":"x","type":"quantitative","axis":null},"y":{"field":"y","type":"quantitative","axis":null},"text":{"field":"t"}}}
]}
],
"spacing":0,
"bounds":"flush"
}
